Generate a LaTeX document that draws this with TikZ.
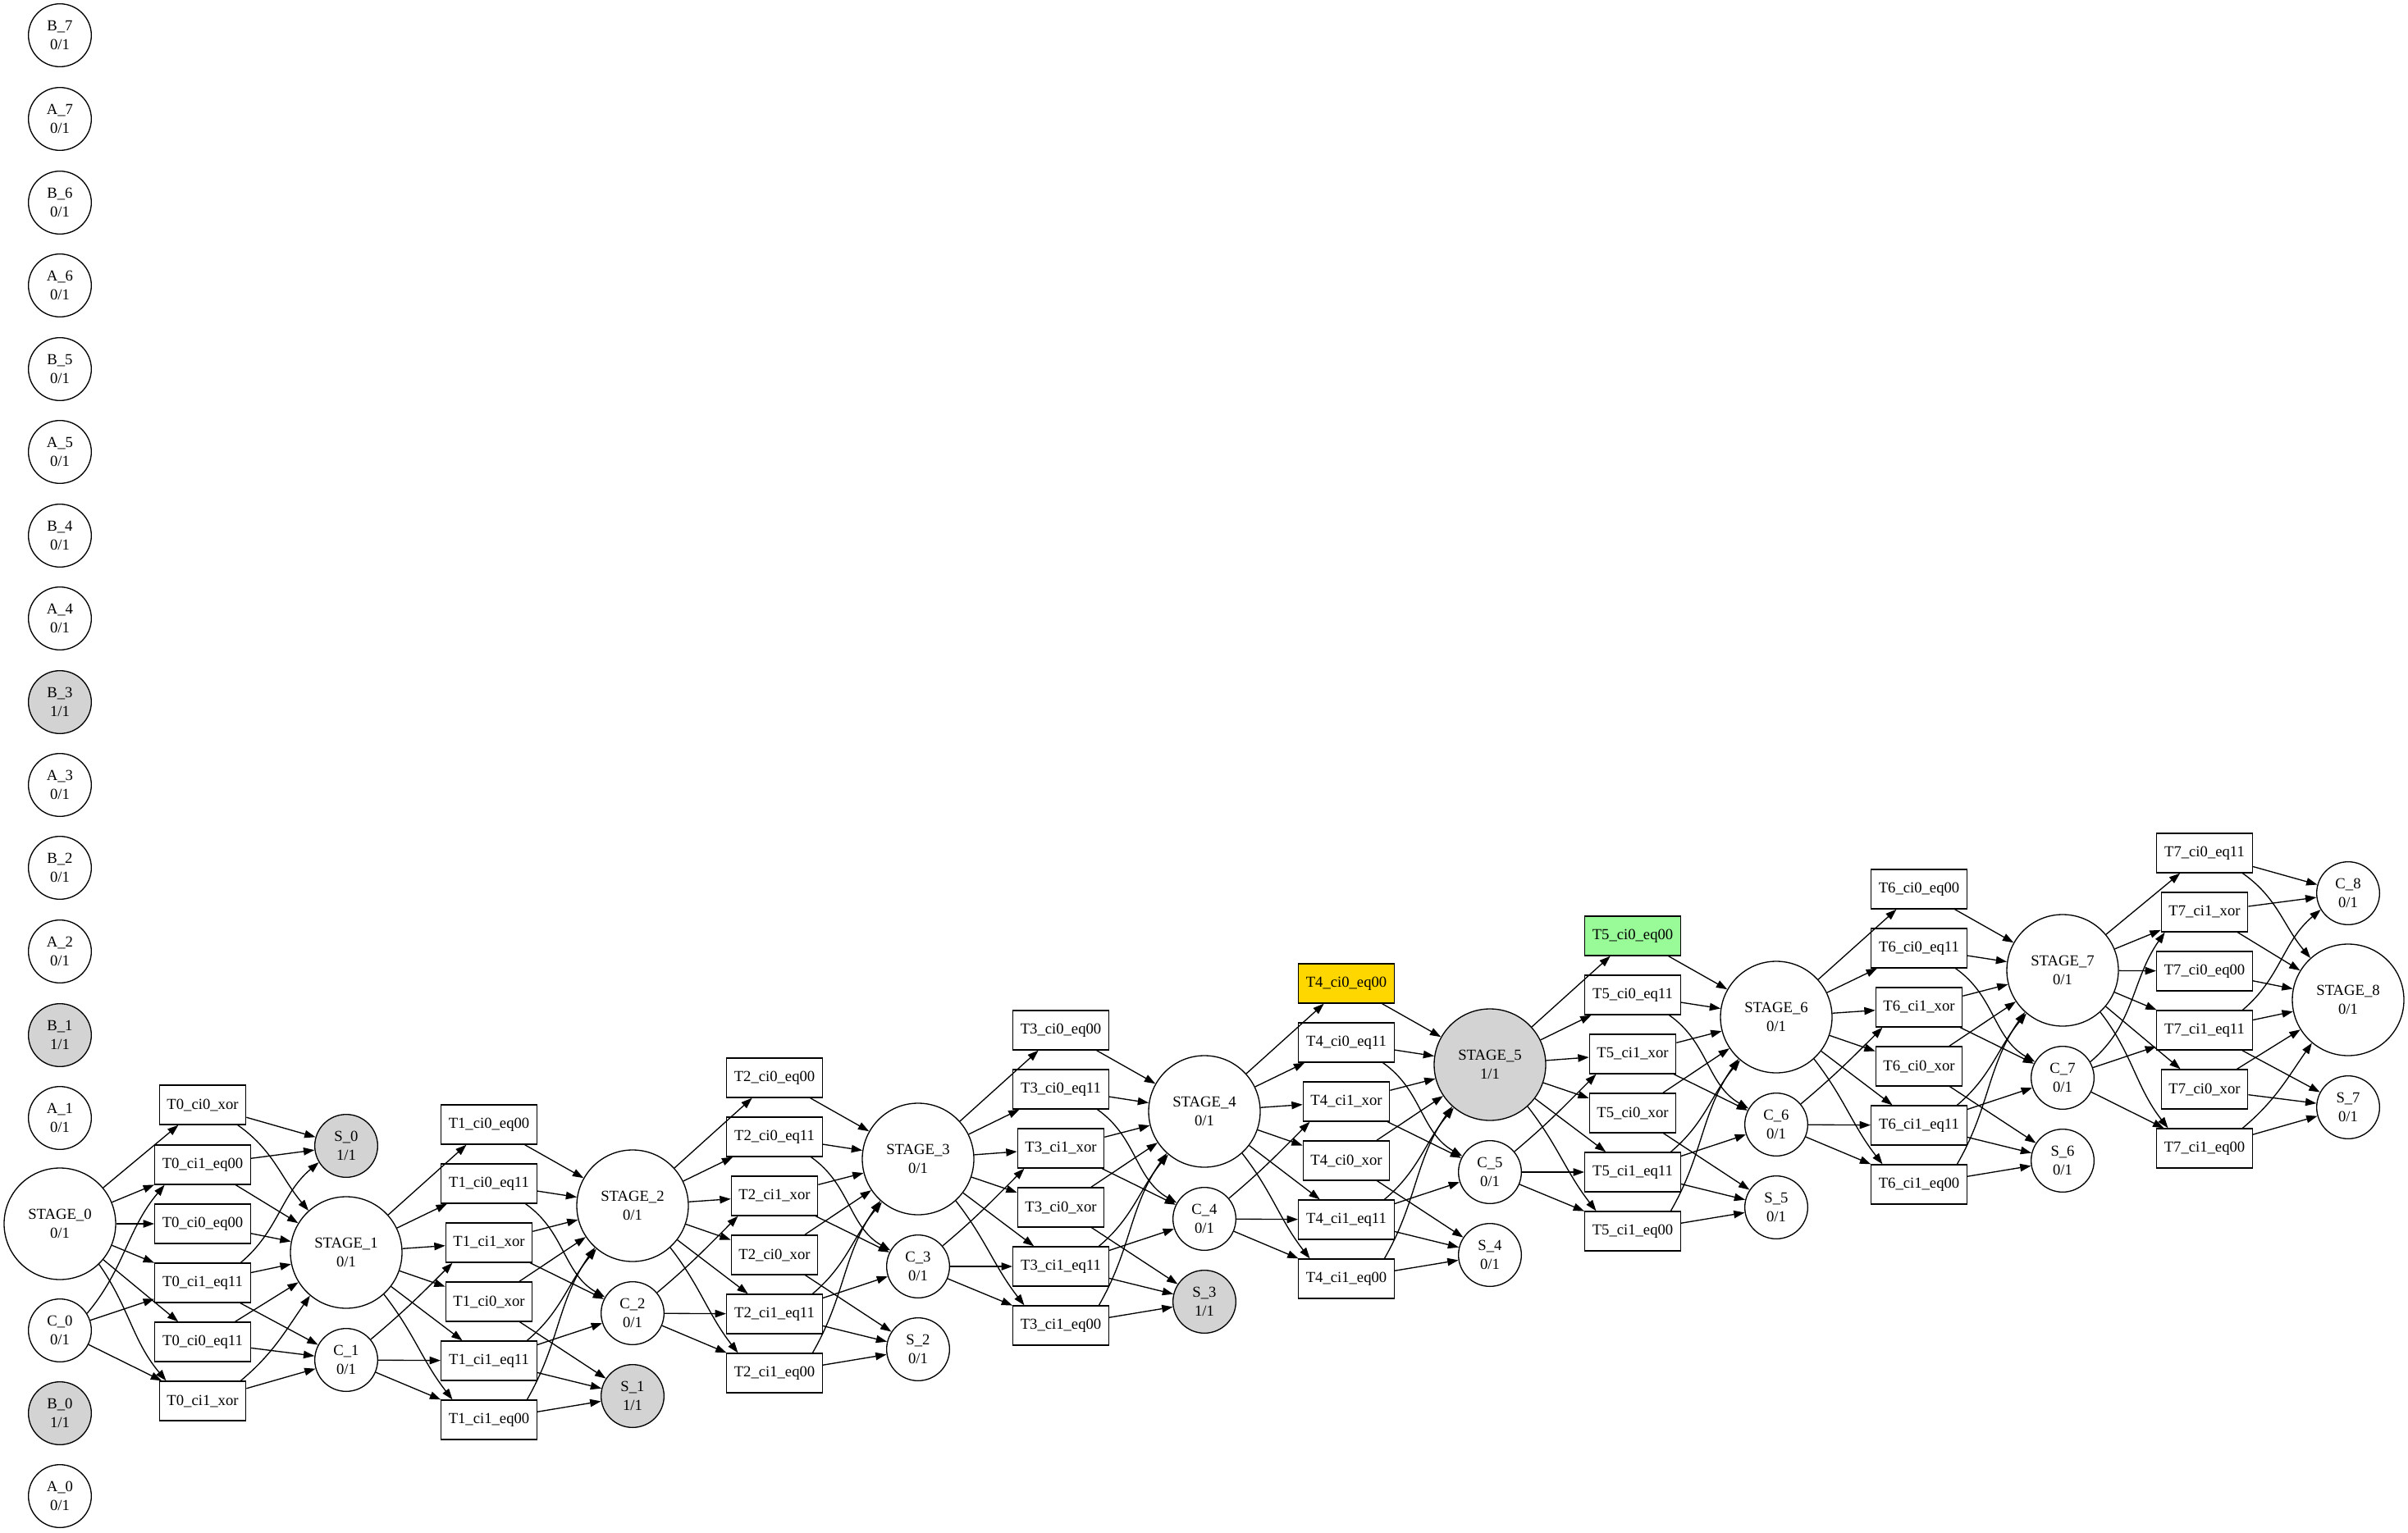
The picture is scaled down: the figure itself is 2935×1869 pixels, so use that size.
\documentclass[tikz,border=0pt]{standalone}
\usepackage{fontspec}
\setmainfont{Liberation Serif}
\usetikzlibrary{arrows.meta}
\definecolor{cinza}{HTML}{D3D3D3}
\definecolor{ouro}{HTML}{FFD700}
\definecolor{verde}{HTML}{98FB98}
\begin{document}
\begin{tikzpicture}[x=0.75pt, y=0.75pt, >={Triangle[length=10pt,width=7pt]}, line width=1pt,
    estado/.style={draw, circle, minimum size=57.5pt, inner sep=0pt, align=center, font=\fontsize{14}{16.8}\selectfont},
    etapa/.style={estado, minimum size=102pt},
    ativo/.style={fill=cinza},
    caixa/.style={draw, rectangle, minimum width=#1, minimum height=36pt, inner sep=0pt, font=\fontsize{14}{16.8}\selectfont},
    caixa/.default=87.5pt]
\useasboundingbox (0,0) rectangle (2935,-1869);
% Entradas
\node[estado] (b7) at (73,-43) {B\_7\\0/1};
\node[estado] (a7) at (73,-145) {A\_7\\0/1};
\node[estado] (b6) at (73,-247) {B\_6\\0/1};
\node[estado] (a6) at (73,-348) {A\_6\\0/1};
\node[estado] (b5) at (73,-450) {B\_5\\0/1};
\node[estado] (a5) at (73,-551) {A\_5\\0/1};
\node[estado] (b4) at (73,-653) {B\_4\\0/1};
\node[estado] (a4) at (73,-754) {A\_4\\0/1};
\node[estado, ativo] (b3) at (73,-856) {B\_3\\1/1};
\node[estado] (a3) at (73,-957) {A\_3\\0/1};
\node[estado] (b2) at (73,-1058) {B\_2\\0/1};
\node[estado] (a2) at (73,-1160) {A\_2\\0/1};
\node[estado, ativo] (b1) at (73,-1262) {B\_1\\1/1};
\node[estado] (a1) at (73,-1363) {A\_1\\0/1};
\node[etapa] (st0) at (73,-1492) {STAGE\_0\\0/1};
\node[estado] (c0) at (73,-1622) {C\_0\\0/1};
\node[estado, ativo] (b0) at (73,-1723) {B\_0\\1/1};
\node[estado] (a0) at (73,-1824) {A\_0\\0/1};
% Estagio 0
\node[caixa=79pt] (t0c0x) at (247,-1347) {T0\_ci0\_xor};
\node[caixa] (t0c1e00) at (247,-1420) {T0\_ci1\_eq00};
\node[caixa] (t0c0e00) at (247,-1492) {T0\_ci0\_eq00};
\node[caixa] (t0c1e11) at (247,-1564) {T0\_ci1\_eq11};
\node[caixa] (t0c0e11) at (247,-1636) {T0\_ci0\_eq11};
\node[caixa=79pt] (t0c1x) at (247,-1708) {T0\_ci1\_xor};
\node[estado, ativo] (s0) at (422,-1397) {S\_0\\1/1};
\node[etapa] (st1) at (422,-1527) {STAGE\_1\\0/1};
\node[estado] (c1) at (422,-1658) {C\_1\\0/1};
\draw[->] (st0) -- (t0c0x);
\draw[->] (st0) -- (t0c1e00);
\draw[->] (st0) -- (t0c0e00);
\draw[->] (st0) -- (t0c1e11);
\draw[->] (st0) -- (t0c0e11);
\draw[->] (st0.-46) to[out=-55,in=130] (t0c1x.151);
\draw[->] (c0.32) to[out=50,in=-130] (t0c1e00.208);
\draw[->] (c0) -- (t0c1e11);
\draw[->] (c0) -- (t0c1x);
\draw[->] (t0c0x) -- (s0);
\draw[->] (t0c0x.-30) to[out=-35,in=130] (st1.132);
\draw[->] (t0c1e00) -- (s0);
\draw[->] (t0c1e00) -- (st1);
\draw[->] (t0c0e00) -- (st1);
\draw[->] (t0c1e11.28) to[out=40,in=-140] (s0.211);
\draw[->] (t0c1e11) -- (st1);
\draw[->] (t0c1e11) -- (c1);
\draw[->] (t0c0e11) -- (st1);
\draw[->] (t0c0e11) -- (c1);
\draw[->] (t0c1x.28) to[out=40,in=-125] (st1.230);
\draw[->] (t0c1x) -- (c1);
% Estagio 1
\node[caixa] (t1c0e00) at (596,-1371) {T1\_ci0\_eq00};
\node[caixa] (t1c0e11) at (596,-1443) {T1\_ci0\_eq11};
\node[caixa=79pt] (t1c1x) at (596,-1515) {T1\_ci1\_xor};
\node[caixa=79pt] (t1c0x) at (596,-1587) {T1\_ci0\_xor};
\node[caixa] (t1c1e11) at (596,-1659) {T1\_ci1\_eq11};
\node[caixa] (t1c1e00) at (596,-1731) {T1\_ci1\_eq00};
\node[etapa] (st2) at (771,-1470) {STAGE\_2\\0/1};
\node[estado] (c2) at (771,-1601) {C\_2\\0/1};
\node[estado, ativo] (s1) at (771,-1702) {S\_1\\1/1};
\draw[->] (st1) -- (t1c0e00);
\draw[->] (st1) -- (t1c0e11);
\draw[->] (st1) -- (t1c1x);
\draw[->] (st1) -- (t1c0x);
\draw[->] (st1) -- (t1c1e11);
\draw[->] (st1.-48) to[out=-52,in=128] (t1c1e00.151);
\draw[->] (c1.40) to[out=40,in=-135] (t1c1x.209);
\draw[->] (c1) -- (t1c1e11);
\draw[->] (c1) -- (t1c1e00);
\draw[->] (t1c0e00) -- (st2);
\draw[->] (t1c0e11) -- (st2);
\draw[->] (t1c0e11.-29) to[out=-35,in=150] (c2.150);
\draw[->] (t1c1x) -- (st2);
\draw[->] (t1c1x) -- (c2);
\draw[->] (t1c0x) -- (st2);
\draw[->] (t1c0x) -- (s1);
\draw[->] (t1c1e11.28) to[out=40,in=-130] (st2.230);
\draw[->] (t1c1e11) -- (c2);
\draw[->] (t1c1e11) -- (s1);
\draw[->] (t1c1e00.28) to[out=60,in=-125] (st2.228);
\draw[->] (t1c1e00) -- (s1);
% Estagio 2
\node[caixa] (t2c0e00) at (944,-1314) {T2\_ci0\_eq00};
\node[caixa] (t2c0e11) at (944,-1386) {T2\_ci0\_eq11};
\node[caixa=79pt] (t2c1x) at (944,-1458) {T2\_ci1\_xor};
\node[caixa=79pt] (t2c0x) at (944,-1530) {T2\_ci0\_xor};
\node[caixa] (t2c1e11) at (944,-1602) {T2\_ci1\_eq11};
\node[caixa] (t2c1e00) at (944,-1674) {T2\_ci1\_eq00};
\node[etapa] (st3) at (1119,-1413) {STAGE\_3\\0/1};
\node[estado] (c3) at (1119,-1544) {C\_3\\0/1};
\node[estado] (s2) at (1119,-1645) {S\_2\\0/1};
\draw[->] (st2) -- (t2c0e00);
\draw[->] (st2) -- (t2c0e11);
\draw[->] (st2) -- (t2c1x);
\draw[->] (st2) -- (t2c0x);
\draw[->] (st2) -- (t2c1e11);
\draw[->] (st2.-48) to[out=-52,in=128] (t2c1e00.151);
\draw[->] (c2.40) to[out=40,in=-135] (t2c1x.209);
\draw[->] (c2) -- (t2c1e11);
\draw[->] (c2) -- (t2c1e00);
\draw[->] (t2c0e00) -- (st3);
\draw[->] (t2c0e11) -- (st3);
\draw[->] (t2c0e11.-29) to[out=-35,in=150] (c3.150);
\draw[->] (t2c1x) -- (st3);
\draw[->] (t2c1x) -- (c3);
\draw[->] (t2c0x) -- (st3);
\draw[->] (t2c0x) -- (s2);
\draw[->] (t2c1e11.28) to[out=40,in=-130] (st3.230);
\draw[->] (t2c1e11) -- (c3);
\draw[->] (t2c1e11) -- (s2);
\draw[->] (t2c1e00.28) to[out=60,in=-125] (st3.228);
\draw[->] (t2c1e00) -- (s2);
% Estagio 3
\node[caixa] (t3c0e00) at (1293,-1256) {T3\_ci0\_eq00};
\node[caixa] (t3c0e11) at (1293,-1328) {T3\_ci0\_eq11};
\node[caixa=79pt] (t3c1x) at (1293,-1400) {T3\_ci1\_xor};
\node[caixa=79pt] (t3c0x) at (1293,-1472) {T3\_ci0\_xor};
\node[caixa] (t3c1e11) at (1293,-1544) {T3\_ci1\_eq11};
\node[caixa] (t3c1e00) at (1293,-1616) {T3\_ci1\_eq00};
\node[etapa] (st4) at (1468,-1355) {STAGE\_4\\0/1};
\node[estado] (c4) at (1468,-1486) {C\_4\\0/1};
\node[estado, ativo] (s3) at (1468,-1587) {S\_3\\1/1};
\draw[->] (st3) -- (t3c0e00);
\draw[->] (st3) -- (t3c0e11);
\draw[->] (st3) -- (t3c1x);
\draw[->] (st3) -- (t3c0x);
\draw[->] (st3) -- (t3c1e11);
\draw[->] (st3.-48) to[out=-52,in=128] (t3c1e00.151);
\draw[->] (c3.40) to[out=40,in=-135] (t3c1x.209);
\draw[->] (c3) -- (t3c1e11);
\draw[->] (c3) -- (t3c1e00);
\draw[->] (t3c0e00) -- (st4);
\draw[->] (t3c0e11) -- (st4);
\draw[->] (t3c0e11.-29) to[out=-35,in=150] (c4.150);
\draw[->] (t3c1x) -- (st4);
\draw[->] (t3c1x) -- (c4);
\draw[->] (t3c0x) -- (st4);
\draw[->] (t3c0x) -- (s3);
\draw[->] (t3c1e11.28) to[out=40,in=-130] (st4.230);
\draw[->] (t3c1e11) -- (c4);
\draw[->] (t3c1e11) -- (s3);
\draw[->] (t3c1e00.28) to[out=60,in=-125] (st4.228);
\draw[->] (t3c1e00) -- (s3);
% Estagio 4
\node[caixa, fill=ouro] (t4c0e00) at (1641,-1199) {T4\_ci0\_eq00};
\node[caixa] (t4c0e11) at (1641,-1271) {T4\_ci0\_eq11};
\node[caixa=79pt] (t4c1x) at (1641,-1343) {T4\_ci1\_xor};
\node[caixa=79pt] (t4c0x) at (1641,-1415) {T4\_ci0\_xor};
\node[caixa] (t4c1e11) at (1641,-1487) {T4\_ci1\_eq11};
\node[caixa] (t4c1e00) at (1641,-1559) {T4\_ci1\_eq00};
\node[etapa, ativo] (st5) at (1816,-1298) {STAGE\_5\\1/1};
\node[estado] (c5) at (1816,-1429) {C\_5\\0/1};
\node[estado] (s4) at (1816,-1530) {S\_4\\0/1};
\draw[->] (st4) -- (t4c0e00);
\draw[->] (st4) -- (t4c0e11);
\draw[->] (st4) -- (t4c1x);
\draw[->] (st4) -- (t4c0x);
\draw[->] (st4) -- (t4c1e11);
\draw[->] (st4.-48) to[out=-52,in=128] (t4c1e00.151);
\draw[->] (c4.40) to[out=40,in=-135] (t4c1x.209);
\draw[->] (c4) -- (t4c1e11);
\draw[->] (c4) -- (t4c1e00);
\draw[->] (t4c0e00) -- (st5);
\draw[->] (t4c0e11) -- (st5);
\draw[->] (t4c0e11.-29) to[out=-35,in=150] (c5.150);
\draw[->] (t4c1x) -- (st5);
\draw[->] (t4c1x) -- (c5);
\draw[->] (t4c0x) -- (st5);
\draw[->] (t4c0x) -- (s4);
\draw[->] (t4c1e11.28) to[out=40,in=-130] (st5.230);
\draw[->] (t4c1e11) -- (c5);
\draw[->] (t4c1e11) -- (s4);
\draw[->] (t4c1e00.28) to[out=60,in=-125] (st5.228);
\draw[->] (t4c1e00) -- (s4);
% Estagio 5
\node[caixa, fill=verde] (t5c0e00) at (1990,-1141) {T5\_ci0\_eq00};
\node[caixa] (t5c0e11) at (1990,-1213) {T5\_ci0\_eq11};
\node[caixa=79pt] (t5c1x) at (1990,-1285) {T5\_ci1\_xor};
\node[caixa=79pt] (t5c0x) at (1990,-1357) {T5\_ci0\_xor};
\node[caixa] (t5c1e11) at (1990,-1429) {T5\_ci1\_eq11};
\node[caixa] (t5c1e00) at (1990,-1501) {T5\_ci1\_eq00};
\node[etapa] (st6) at (2165,-1240) {STAGE\_6\\0/1};
\node[estado] (c6) at (2165,-1371) {C\_6\\0/1};
\node[estado] (s5) at (2165,-1472) {S\_5\\0/1};
\draw[->] (st5) -- (t5c0e00);
\draw[->] (st5) -- (t5c0e11);
\draw[->] (st5) -- (t5c1x);
\draw[->] (st5) -- (t5c0x);
\draw[->] (st5) -- (t5c1e11);
\draw[->] (st5.-48) to[out=-52,in=128] (t5c1e00.151);
\draw[->] (c5.40) to[out=40,in=-135] (t5c1x.209);
\draw[->] (c5) -- (t5c1e11);
\draw[->] (c5) -- (t5c1e00);
\draw[->] (t5c0e00) -- (st6);
\draw[->] (t5c0e11) -- (st6);
\draw[->] (t5c0e11.-29) to[out=-35,in=150] (c6.150);
\draw[->] (t5c1x) -- (st6);
\draw[->] (t5c1x) -- (c6);
\draw[->] (t5c0x) -- (st6);
\draw[->] (t5c0x) -- (s5);
\draw[->] (t5c1e11.28) to[out=40,in=-130] (st6.230);
\draw[->] (t5c1e11) -- (c6);
\draw[->] (t5c1e11) -- (s5);
\draw[->] (t5c1e00.28) to[out=60,in=-125] (st6.228);
\draw[->] (t5c1e00) -- (s5);
% Estagio 6
\node[caixa] (t6c0e00) at (2339,-1084) {T6\_ci0\_eq00};
\node[caixa] (t6c0e11) at (2339,-1156) {T6\_ci0\_eq11};
\node[caixa=79pt] (t6c1x) at (2339,-1228) {T6\_ci1\_xor};
\node[caixa=79pt] (t6c0x) at (2339,-1300) {T6\_ci0\_xor};
\node[caixa] (t6c1e11) at (2339,-1372) {T6\_ci1\_eq11};
\node[caixa] (t6c1e00) at (2339,-1444) {T6\_ci1\_eq00};
\node[etapa] (st7) at (2514,-1183) {STAGE\_7\\0/1};
\node[estado] (c7) at (2514,-1314) {C\_7\\0/1};
\node[estado] (s6) at (2514,-1415) {S\_6\\0/1};
\draw[->] (st6) -- (t6c0e00);
\draw[->] (st6) -- (t6c0e11);
\draw[->] (st6) -- (t6c1x);
\draw[->] (st6) -- (t6c0x);
\draw[->] (st6) -- (t6c1e11);
\draw[->] (st6.-48) to[out=-52,in=128] (t6c1e00.151);
\draw[->] (c6.40) to[out=40,in=-135] (t6c1x.209);
\draw[->] (c6) -- (t6c1e11);
\draw[->] (c6) -- (t6c1e00);
\draw[->] (t6c0e00) -- (st7);
\draw[->] (t6c0e11) -- (st7);
\draw[->] (t6c0e11.-29) to[out=-35,in=150] (c7.150);
\draw[->] (t6c1x) -- (st7);
\draw[->] (t6c1x) -- (c7);
\draw[->] (t6c0x) -- (st7);
\draw[->] (t6c0x) -- (s6);
\draw[->] (t6c1e11.28) to[out=40,in=-130] (st7.230);
\draw[->] (t6c1e11) -- (c7);
\draw[->] (t6c1e11) -- (s6);
\draw[->] (t6c1e00.28) to[out=60,in=-125] (st7.228);
\draw[->] (t6c1e00) -- (s6);
% Estagio 7
\node[caixa] (t7c0e11) at (2687,-1040) {T7\_ci0\_eq11};
\node[caixa=79pt] (t7c1x) at (2687,-1112) {T7\_ci1\_xor};
\node[caixa] (t7c0e00) at (2687,-1184) {T7\_ci0\_eq00};
\node[caixa] (t7c1e11) at (2687,-1256) {T7\_ci1\_eq11};
\node[caixa=79pt] (t7c0x) at (2687,-1328) {T7\_ci0\_xor};
\node[caixa] (t7c1e00) at (2687,-1400) {T7\_ci1\_eq00};
\node[estado] (c8) at (2862,-1089) {C\_8\\0/1};
\node[etapa] (st8) at (2862,-1219) {STAGE\_8\\0/1};
\node[estado] (s7) at (2862,-1350) {S\_7\\0/1};
\draw[->] (st7) -- (t7c0e11);
\draw[->] (st7) -- (t7c1x);
\draw[->] (st7) -- (t7c0e00);
\draw[->] (st7) -- (t7c1e11);
\draw[->] (st7) -- (t7c0x);
\draw[->] (st7.-48) to[out=-52,in=128] (t7c1e00.151);
\draw[->] (c7.30) to[out=40,in=-125] (t7c1x.207);
\draw[->] (c7) -- (t7c1e11);
\draw[->] (c7) -- (t7c1e00);
\draw[->] (t7c0e11) -- (c8);
\draw[->] (t7c0e11.-28) to[out=-35,in=130] (st8.132);
\draw[->] (t7c1x) -- (c8);
\draw[->] (t7c1x) -- (st8);
\draw[->] (t7c0e00) -- (st8);
\draw[->] (t7c1e11.28) to[out=40,in=-140] (c8.211);
\draw[->] (t7c1e11) -- (st8);
\draw[->] (t7c1e11) -- (s7);
\draw[->] (t7c0x) -- (st8);
\draw[->] (t7c0x) -- (s7);
\draw[->] (t7c1e00.28) to[out=40,in=-125] (st8.230);
\draw[->] (t7c1e00) -- (s7);
\end{tikzpicture}
\end{document}
